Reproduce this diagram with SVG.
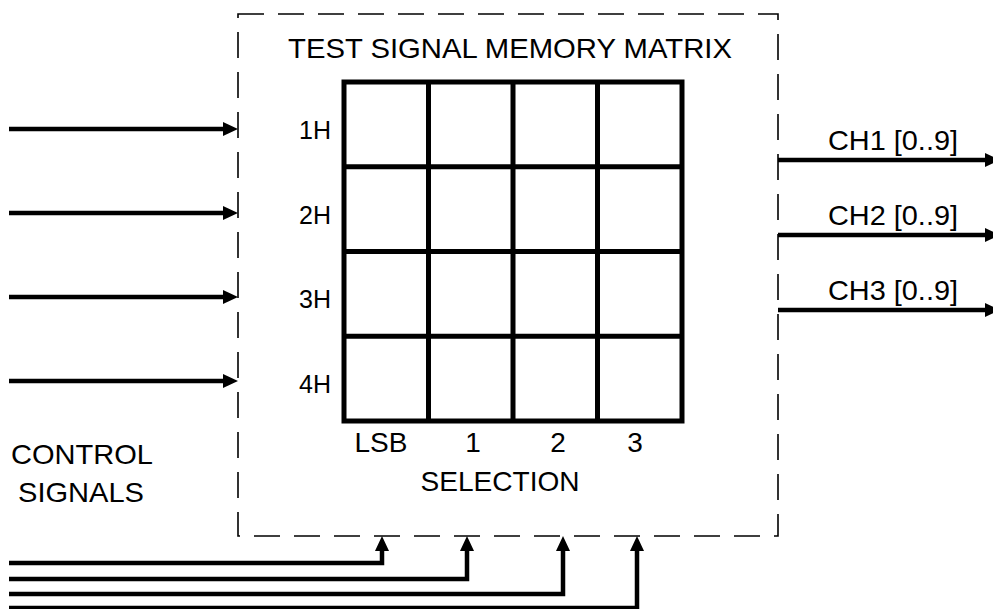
<svg xmlns="http://www.w3.org/2000/svg" width="993" height="609" viewBox="0 0 993 609">
<style>
text{font-family:"Liberation Sans",Arial,sans-serif;fill:#000}
.t28{font-size:28px}
.t25{font-size:25px}
.mid{text-anchor:middle}
.end{text-anchor:end}
.box{fill:none;stroke:#000;stroke-width:1.6;stroke-dasharray:26 14}
.grid{fill:none;stroke:#000;stroke-width:5;stroke-linejoin:miter}
.sig{fill:none;stroke:#000;stroke-width:4.5;stroke-linejoin:miter}
</style>
<defs>
<marker id="arr" markerUnits="userSpaceOnUse" markerWidth="15" markerHeight="14" refX="0" refY="7" orient="auto" overflow="visible">
<path d="M0,0 L15,7 L0,14 z" fill="#000"/>
</marker>
</defs>
<rect width="993" height="609" fill="#fff"/>
<g id="matrix">
<rect class="box" x="238" y="14" width="540" height="522"/>
<text class="t28 mid" x="510" y="58" textLength="444" lengthAdjust="spacingAndGlyphs">TEST SIGNAL MEMORY MATRIX</text>
<rect class="grid" x="344" y="82" width="338" height="339"/>
<path class="grid" d="M428.5 82V421M513 82V421M597.5 82V421M344 166.75H682M344 251.5H682M344 336.25H682"/>
<text class="t25 end" x="331" y="139">1H</text>
<text class="t25 end" x="331" y="224">2H</text>
<text class="t25 end" x="331" y="308">3H</text>
<text class="t25 end" x="331" y="393">4H</text>
<text class="t28 mid" x="381" y="452">LSB</text>
<text class="t28 mid" x="473" y="452">1</text>
<text class="t28 mid" x="558" y="452">2</text>
<text class="t28 mid" x="635" y="452">3</text>
<text class="t28 mid" x="500" y="491" textLength="159" lengthAdjust="spacingAndGlyphs">SELECTION</text>
</g>
<g id="control-label">
<text class="t28 mid" x="82" y="464" textLength="142" lengthAdjust="spacingAndGlyphs">CONTROL</text>
<text class="t28 mid" x="81" y="502" textLength="126" lengthAdjust="spacingAndGlyphs">SIGNALS</text>
</g>
<g id="outputs">
<text class="t28" x="828" y="150" textLength="130" lengthAdjust="spacingAndGlyphs">CH1 [0..9]</text>
<text class="t28" x="828" y="225" textLength="130" lengthAdjust="spacingAndGlyphs">CH2 [0..9]</text>
<text class="t28" x="828" y="300" textLength="130" lengthAdjust="spacingAndGlyphs">CH3 [0..9]</text>
</g>
<g id="connectors">
<path class="sig" d="M9 129H223" marker-end="url(#arr)"/>
<path class="sig" d="M9 213H223" marker-end="url(#arr)"/>
<path class="sig" d="M9 297H223" marker-end="url(#arr)"/>
<path class="sig" d="M9 381H223" marker-end="url(#arr)"/>
<path class="sig" d="M778 160H985" marker-end="url(#arr)"/>
<path class="sig" d="M778 235H985" marker-end="url(#arr)"/>
<path class="sig" d="M778 310H985" marker-end="url(#arr)"/>
<path class="sig" d="M9 563H382V551" marker-end="url(#arr)"/>
<path class="sig" d="M9 579H467V551" marker-end="url(#arr)"/>
<path class="sig" d="M9 594H563V551" marker-end="url(#arr)"/>
<path class="sig" d="M9 608H637V551" marker-end="url(#arr)"/>
</g>
</svg>
